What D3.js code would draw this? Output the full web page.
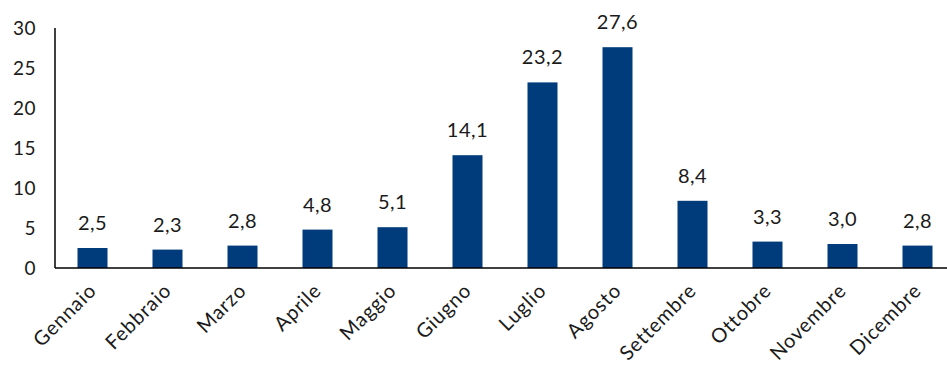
<!DOCTYPE html>
<html><head><meta charset="utf-8">
<script src="https://cdn.jsdelivr.net/npm/d3@7"></script>
<style>body{margin:0;background:#fff}svg{display:block}text{font-family:Lato,"Open Sans",sans-serif;fill:#1a1a1a}</style>
</head><body>
<svg id="c" width="947" height="365"></svg>
<script>
const months = ["Gennaio","Febbraio","Marzo","Aprile","Maggio","Giugno","Luglio","Agosto","Settembre","Ottobre","Novembre","Dicembre"];
const values = [2.5,2.3,2.8,4.8,5.1,14.1,23.2,27.6,8.4,3.3,3.0,2.8];
const yTicks = [0,5,10,15,20,25,30];

const svg = d3.select("#c");
const mLeft = 55, mRight = 947, mTop = 28, mBottom = 268;
const x = d3.scaleBand().domain(months).range([mLeft, 955]).paddingInner(0.6).paddingOuter(0.3);
const y = d3.scaleLinear().domain([0,30]).range([mBottom, mTop]);
const fmt = v => d3.format(".1f")(v).replace(".", ",");

svg.append("g").selectAll("rect").data(values).join("rect")
  .attr("x", (d,i) => x(months[i])).attr("width", x.bandwidth())
  .attr("y", d => y(d)).attr("height", d => y(0) - y(d))
  .attr("fill", "#003b7b");

svg.append("g").selectAll("text").data(values).join("text")
  .attr("x", (d,i) => x(months[i]) + x.bandwidth()/2)
  .attr("y", d => y(d) - 18)
  .attr("text-anchor", "middle").attr("font-size", 20).attr("letter-spacing", 0.5).text(fmt);

const yAxis = svg.append("g").attr("transform", `translate(${mLeft},0)`)
  .call(d3.axisLeft(y).tickValues(yTicks).tickSize(0).tickPadding(19));
yAxis.select(".domain").remove();
yAxis.selectAll("text").attr("font-size", 19).attr("letter-spacing", 0.5).style("font-family","Lato,sans-serif").attr("fill","#1a1a1a");

svg.append("line").attr("x1", mLeft).attr("x2", mLeft).attr("y1", mTop).attr("y2", mBottom)
  .attr("stroke", "#000").attr("stroke-width", 1.5);
svg.append("line").attr("x1", mLeft).attr("x2", mRight).attr("y1", mBottom).attr("y2", mBottom)
  .attr("stroke", "#000").attr("stroke-width", 1.5);

svg.append("g").selectAll("text").data(months).join("text")
  .attr("transform", d => `translate(${x(d) + x.bandwidth()/2 + 5},${mBottom + 24}) rotate(-45)`)
  .attr("text-anchor", "end").attr("font-size", 20).attr("letter-spacing", 0.8).text(d => d);
</script>
</body></html>
